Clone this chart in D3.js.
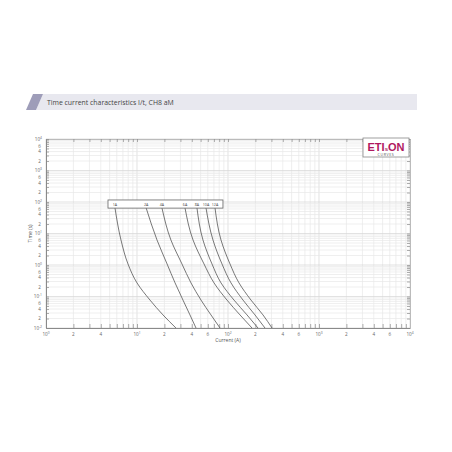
<!DOCTYPE html>
<html>
<head>
<meta charset="utf-8">
<script src="https://cdn.jsdelivr.net/npm/d3@7"></script>
<style>
  body { margin: 0; background: #fff; }
  svg { display: block; font-family: "Open Sans", "DejaVu Sans", sans-serif; }
</style>
</head>
<body>
<div id="chart"></div>
<script>
// curve data (time in s, current in A)
const curveLabels = ["1A", "2A", "4A", "6A", "8A", "10A", "12A"];
const curveTimes = [65, 6.2, 1.08, 0.27, 0.077, 0.026, 0.01];
const curveCurrents = [
  [5.73, 6.67, 7.96, 10.0, 13.9, 19.3, 26.8],
  [12.6, 16.6, 21.4, 26.2, 32.0, 38.2, 44.5],
  [18.8, 23.6, 31.2, 39.2, 50.5, 65.0, 81.7],
  [33.7, 41.3, 54.5, 70.2, 97.5, 135.5, 183.5],
  [45.6, 53.1, 66.7, 83.8, 116.4, 161.8, 213.6],
  [57.3, 68.4, 85.9, 107.9, 146.2, 198.0, 255.0],
  [72.0, 83.8, 105.2, 132.1, 178.9, 242.4, 304.5]
];
const labelBoxCurrent = [4.8, 88];
const labelBoxTime = [116, 64];

// axes
const xDecades = [0, 1, 2, 3, 4];
const yDecades = [-2, -1, 0, 1, 2, 3, 4];
const xMinorLabels = [[2, 4], [2, 4, 6], [2, 4, 6], [2, 4, 6]];
const yMinorLabels = [2, 4, 6];
const title = "Time current characteristics I/t, CH8 aM";

const W = 452, H = 452;
const svg = d3.select("#chart").append("svg").attr("width", W).attr("height", H);
svg.append("rect").attr("width", W).attr("height", H).attr("fill", "#fff");

// title banner
svg.append("path")
  .attr("d", "M43,94 L417,94 L417,110 L36,110 Z")
  .attr("fill", "#e8e8ef");
svg.append("path")
  .attr("d", "M33,94 L43,94 L36,110 L26,110 Z")
  .attr("fill", "#9e9db9");
svg.append("text")
  .attr("x", 47).attr("y", 104.5)
  .attr("font-size", 6.9).attr("fill", "#444")
  .text(title);

const margin = {left: 46, right: 410, top: 139, bottom: 328};
const x = d3.scaleLog().domain([1, 1e4]).range([margin.left, margin.right]);
const y = d3.scaleLog().domain([0.01, 1e4]).range([margin.bottom, margin.top]);

// tick values 1..9 per decade
const xTicks = [];
xDecades.slice(0, -1).forEach(d => { for (let k = 1; k < 10; k++) xTicks.push(k * Math.pow(10, d)); });
xTicks.push(1e4);
const yTicks = [];
yDecades.slice(0, -1).forEach(d => { for (let k = 1; k < 10; k++) yTicks.push(k * Math.pow(10, d)); });
yTicks.push(1e4);
const isDecade = v => Math.abs(Math.log10(v) - Math.round(Math.log10(v))) < 1e-9;

// grid
const grid = svg.append("g");
grid.selectAll(".vg").data(xTicks).enter().append("line")
  .attr("x1", d => x(d)).attr("x2", d => x(d))
  .attr("y1", margin.top).attr("y2", margin.bottom)
  .attr("stroke", d => isDecade(d) ? "#d6d6d6" : "#e8e8e8")
  .attr("stroke-width", 0.7);
grid.selectAll(".hg").data(yTicks).enter().append("line")
  .attr("y1", d => y(d)).attr("y2", d => y(d))
  .attr("x1", margin.left).attr("x2", margin.right)
  .attr("stroke", d => isDecade(d) ? "#d6d6d6" : "#e8e8e8")
  .attr("stroke-width", 0.7);

// axes with inward ticks
const axisColor = "#8a8a8a";
function styleAxis(g) {
  g.selectAll("path").attr("stroke", axisColor).attr("stroke-width", 1);
  g.selectAll(".tick line").attr("stroke", axisColor).attr("stroke-width", 0.7);
  g.selectAll(".tick text").remove();
}
svg.append("g").attr("transform", `translate(0,${margin.bottom})`)
  .call(d3.axisBottom(x).tickValues(xTicks).tickSize(-4).tickSizeOuter(0)).call(styleAxis);
svg.append("g").attr("transform", `translate(0,${margin.top})`)
  .call(d3.axisTop(x).tickValues(xTicks).tickSize(-3).tickSizeOuter(0)).call(styleAxis)
  .select("path").attr("stroke", "#bbb");
svg.append("g").attr("transform", `translate(${margin.left},0)`)
  .call(d3.axisLeft(y).tickValues(yTicks).tickSize(-3).tickSizeOuter(0)).call(styleAxis);
svg.append("g").attr("transform", `translate(${margin.right},0)`)
  .call(d3.axisRight(y).tickValues(yTicks).tickSize(-3).tickSizeOuter(0)).call(styleAxis)
  .select("path").attr("stroke", "#bbb");

// tick labels
const lblColor = "#666", lblSize = 4.6;
function decadeLabel(sel, exp) {
  sel.append("tspan").text("10");
  sel.append("tspan").attr("dy", -1.8).attr("font-size", 3.3).text(exp);
}
xDecades.forEach((d, i) => {
  const t = svg.append("text").attr("x", x(Math.pow(10, d))).attr("y", margin.bottom + 8)
    .attr("text-anchor", "middle").attr("font-size", lblSize).attr("fill", lblColor);
  decadeLabel(t, d);
  if (i < xMinorLabels.length) {
    xMinorLabels[i].forEach(k => {
      svg.append("text").attr("x", x(k * Math.pow(10, d))).attr("y", margin.bottom + 8)
        .attr("text-anchor", "middle").attr("font-size", lblSize).attr("fill", lblColor).text(k);
    });
  }
});
yDecades.forEach((d, i) => {
  const t = svg.append("text").attr("x", margin.left - 4).attr("y", y(Math.pow(10, d)) + 1.6)
    .attr("text-anchor", "end").attr("font-size", lblSize).attr("fill", lblColor);
  decadeLabel(t, d);
  if (i < yDecades.length - 1) {
    yMinorLabels.forEach(k => {
      svg.append("text").attr("x", margin.left - 5).attr("y", y(k * Math.pow(10, d)) + 1.6)
        .attr("text-anchor", "end").attr("font-size", lblSize).attr("fill", lblColor).text(k);
    });
  }
});

// axis titles
svg.append("text").attr("x", (margin.left + margin.right) / 2).attr("y", margin.bottom + 14)
  .attr("text-anchor", "middle").attr("font-size", 5).attr("fill", "#555").text("Current (A)");
svg.append("text")
  .attr("transform", `translate(${margin.left - 14},${(margin.top + margin.bottom) / 2}) rotate(-90)`)
  .attr("text-anchor", "middle").attr("font-size", 5).attr("fill", "#555").text("Time (s)");

// curves
const line = d3.line()
  .x(d => x(d[0])).y(d => y(d[1]))
  .curve(d3.curveMonotoneY);
svg.append("g").selectAll("path")
  .data(curveCurrents.map(cs => cs.map((c, i) => [c, curveTimes[i]])))
  .enter().append("path")
  .attr("d", line)
  .attr("fill", "none").attr("stroke", "#555").attr("stroke-width", 0.8);

// label box
svg.append("rect")
  .attr("x", x(labelBoxCurrent[0])).attr("y", y(labelBoxTime[0]))
  .attr("width", x(labelBoxCurrent[1]) - x(labelBoxCurrent[0]))
  .attr("height", y(labelBoxTime[1]) - y(labelBoxTime[0]))
  .attr("fill", "#fff").attr("stroke", "#666").attr("stroke-width", 0.8);
svg.append("g").selectAll("text").data(curveLabels).enter().append("text")
  .attr("x", (d, i) => x(curveCurrents[i][0]))
  .attr("y", y(labelBoxTime[1]) - 2)
  .attr("text-anchor", "middle").attr("font-size", 3.6).attr("fill", "#444")
  .text(d => d);

// logo
const logo = svg.append("g");
logo.append("rect").attr("x", 363).attr("y", 138).attr("width", 46).attr("height", 19)
  .attr("fill", "#fff").attr("stroke", "#888").attr("stroke-width", 0.8);
const lt = logo.append("text").attr("x", 386).attr("y", 150.5).attr("text-anchor", "middle")
  .attr("font-size", 11).attr("font-weight", "bold").attr("fill", "#b0185f")
  .attr("font-family", "'Liberation Sans', Arial, sans-serif");
lt.append("tspan").text("ETI");
lt.append("tspan").attr("font-size", 6).text("s");
lt.append("tspan").text("ON");
logo.append("text").attr("x", 386).attr("y", 155.5).attr("text-anchor", "middle")
  .attr("font-size", 3.6).attr("letter-spacing", 0.6).attr("fill", "#555").text("CURVES");
</script>
</body>
</html>
